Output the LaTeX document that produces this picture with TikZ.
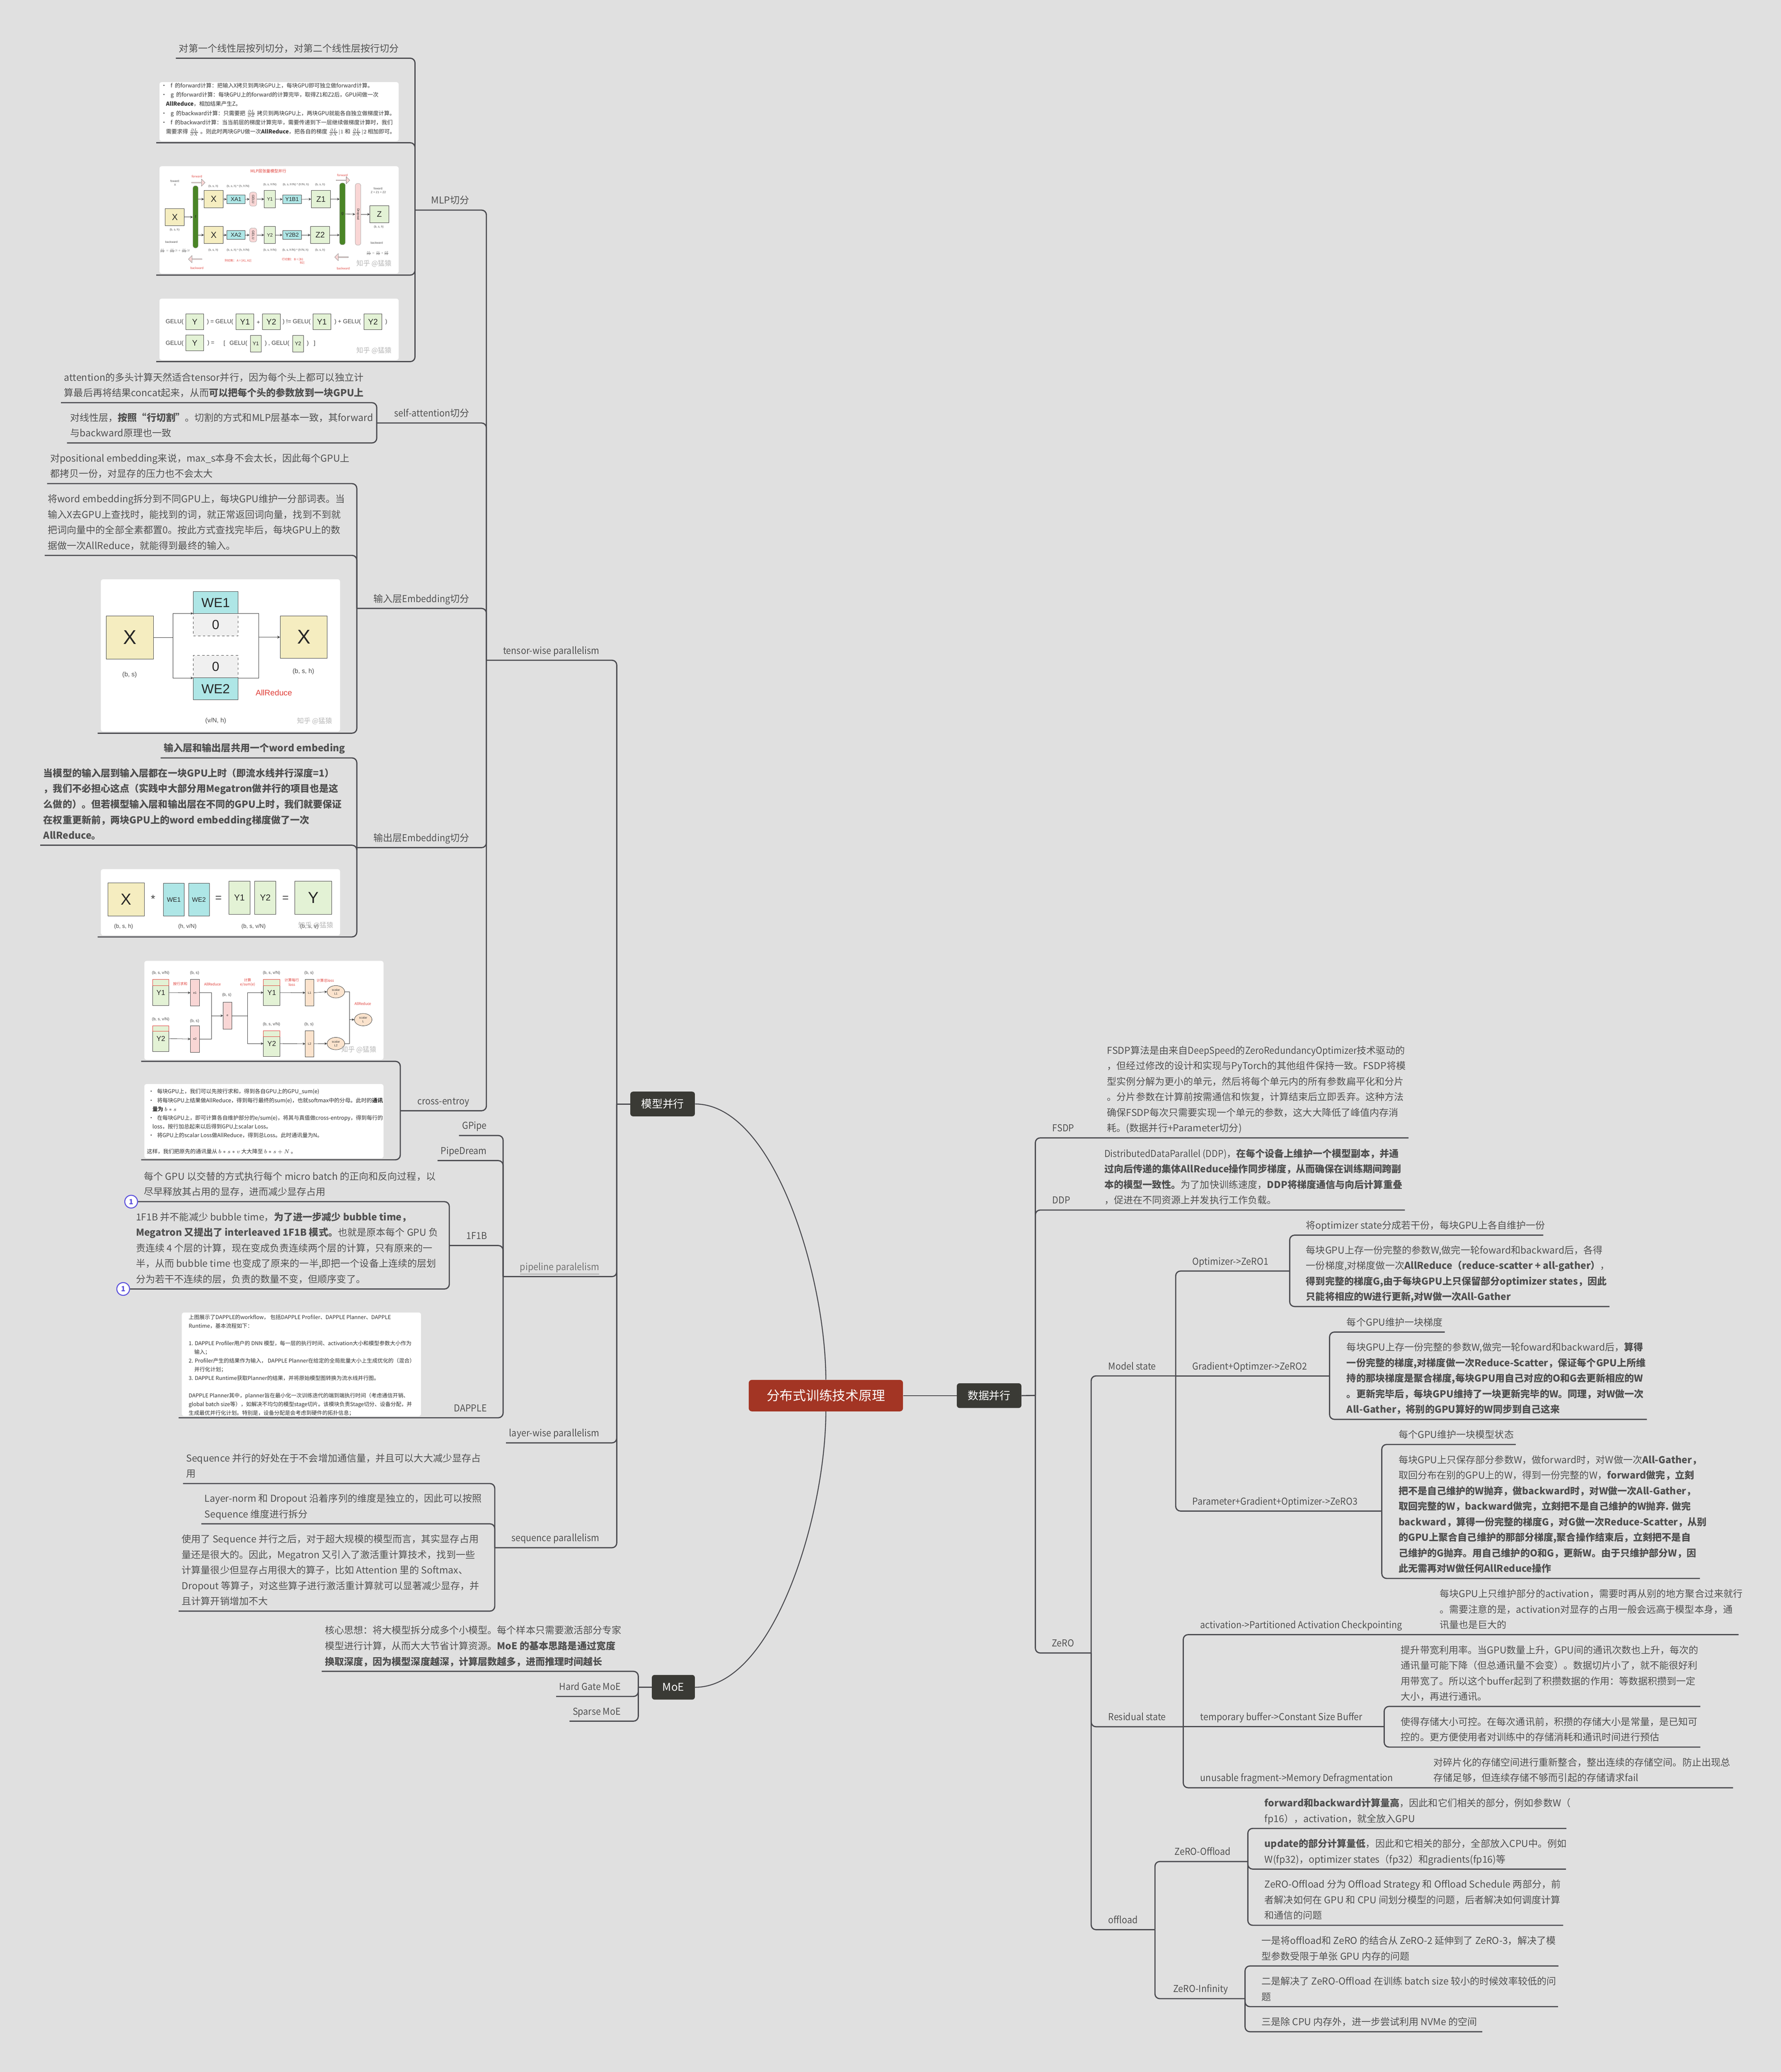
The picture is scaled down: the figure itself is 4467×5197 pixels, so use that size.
\documentclass[tikz,border=0pt]{standalone}
\usepackage{amsmath}
\usepackage{fontspec}
\setmainfont{Noto Sans CJK SC}
\newfontfamily\arialf{Liberation Sans}
\usetikzlibrary{shapes.arrows,shapes.geometric}
\definecolor{bgcol}{HTML}{E0E0E0}
\definecolor{inkcol}{HTML}{505050}
\definecolor{linecol}{HTML}{4B4B50}
\definecolor{rootcol}{HTML}{A33524}
\definecolor{darkcol}{HTML}{3A3A35}
\definecolor{yellowcol}{HTML}{F5EDC0}
\definecolor{cyancol}{HTML}{AEE6E6}
\definecolor{greencol}{HTML}{E3F2D5}
\definecolor{pinkcol}{HTML}{F9D6D5}
\definecolor{peachcol}{HTML}{FBE3CD}
\definecolor{barcol}{HTML}{4A8526}
\definecolor{redcol}{HTML}{E0403A}
\definecolor{badgecol}{HTML}{5B50DC}
\newcommand{\fs}[1]{\fontsize{#1}{#1}\selectfont}
\newcommand{\nar}[1]{{\addfontfeature{FakeStretch=0.93}#1}}
\newcommand{\wmname}{知乎 @猛猿}
\tikzstyle{txt} = [anchor=south west, inner xsep=4pt, inner ysep=2pt, outer sep=0pt, align=left, text=inkcol,
font=\fontsize{12}{19.5}\selectfont, execute at end node=\strut]
\tikzstyle{lab} = [txt, anchor=south east]
\tikzstyle{branch} = [line width=1.5pt, draw=linecol, rounded corners=6pt]
\tikzstyle{shot} = [rectangle, anchor=south west, fill=white, rounded corners=3pt, outer xsep=4pt, outer ysep=2pt,
minimum width=300pt]
\tikzstyle{topicbox} = [rectangle, rounded corners=3.5pt, fill=darkcol, text=white, minimum width=81pt,
minimum height=31pt, font=\fs{13.5}]
\tikzstyle{badge} = [circle, draw=badgecol, line width=1.2pt, fill=white, text=badgecol, minimum size=16pt,
inner sep=0pt, font=\bfseries\fs{9}]
\tikzstyle{note} = [anchor=north west, align=left, inner sep=0pt, text=black!80]
\tikzstyle{dim} = [inner sep=0pt, text=black!70, align=center, font=\arialf\fs{3.6}]
\tikzstyle{redtag} = [inner sep=0pt, text=redcol, align=center, font=\fs{3.6}]
\tikzstyle{wmark} = [inner sep=0pt, text=black!28, font=\fs{8.5}]
\tikzstyle{cell} = [rectangle, draw=black!75, line width=0.5pt, inner sep=0pt, text=black!85, font=\arialf\fs{8}]
\tikzstyle{bar} = [rectangle, rounded corners=3pt, draw=black!40, line width=0.3pt, inner sep=0pt, text=black!85,
font=\arialf\fs{5}]
\tikzstyle{link} = [->,>=stealth, line width=0.4pt, draw=black!80]
\tikzstyle{plain} = [line width=0.4pt, draw=black!80]
\tikzstyle{blockarrow} = [single arrow, draw=black!55, fill=pinkcol, line width=0.3pt, minimum height=17pt,
minimum width=9pt, single arrow head extend=1.5pt, inner sep=0pt]
\tikzstyle{oval} = [ellipse, draw=black!80, fill=peachcol, line width=0.4pt, minimum width=22pt, minimum height=15.5pt,
inner sep=0pt, align=center, text=black!75, font=\arialf\fs{3.8}]
\tikzstyle{geluword} = [inner sep=0pt, text=black!75, font=\arialf\fs{7.3}]
\begin{document}
\begin{tikzpicture}[x=0.5pt, y=-0.5pt]
    \useasboundingbox (0,0) rectangle (4467,5197);
    \fill [bgcol] (0,0) rectangle (4467,5197);
    % centre
    \node (root) [rectangle, rounded corners=4pt, fill=rootcol, text=white, minimum width=193.5pt, minimum height=39.5pt,
    font=\fs{16.5}] at (2071.5,3500.5) {分布式训练技术原理};
    \node (dp) [topicbox, right of= root, node distance = 204.75pt] {数据并行};
    \node (mx) [topicbox] at (1662,2769) {模型并行};
    \node (moe) [topicbox, minimum width=54pt] at (1689,4232) {MoE};
    \draw [branch, line width=1.2pt] (mx.east) .. controls (1940,2769) and (2071,3200) .. (root.north);
    \draw [branch, line width=1.2pt] (moe.east) .. controls (1940,4232) and (2071,3801) .. (root.south);
    \draw [branch, line width=1.2pt] (root.east) -- (dp.west);
    % junctions of the left half
    \coordinate (c0) at (1220,1656);
    \coordinate (c1) at (1041,527);
    \coordinate (c2) at (945,1061);
    \coordinate (c3) at (895,1526);
    \coordinate (c4) at (895,2126);
    \coordinate (c5) at (1004,2786);
    \coordinate (c6) at (1262,3202);
    \coordinate (c7) at (1127,3124);
    \coordinate (c8) at (1547,2769);
    \coordinate (c9) at (1241,3882);
    \coordinate (c10) at (1601,4232);
    % MLP
    \node (a1) [txt] at (441,146) {对第一个线性层按列切分，对第二个线性层按行切分};
    \node (a2) [shot, minimum height=74pt] at (392,358) {};
    \node (a3) [shot, minimum height=134.5pt] at (392,690) {};
    \node (a4) [shot, minimum height=77pt] at (392,907) {};
    \node (l1) [lab] at (1185,527) {MLP切分};
    \node (a2t) [note, font=\fontsize{6.9}{11.5}\selectfont] at (404,208) {•\hspace{5pt}f\hspace{3pt}的forward计算：把输入X拷贝到两块GPU上，每块GPU即可独立做forward计算。\\
    •\hspace{5pt}g\hspace{3pt}的forward计算：每块GPU上的forward的计算完毕，取得Z1和Z2后，GPU间做一次\\
    \hspace*{6pt}\textbf{AllReduce}，相加结果产生Z。\\
    •\hspace{5pt}g\hspace{3pt}的backward计算：只需要把 $\frac{\partial L}{\partial Z}$ 拷贝到两块GPU上，两块GPU就能各自独立做梯度计算。\\
    •\hspace{5pt}f\hspace{3pt}的backward计算：当当前层的梯度计算完毕，需要传递到下一层继续做梯度计算时，我们\\
    \hspace*{6pt}需要求得 $\frac{\partial L}{\partial X}$ 。则此时两块GPU做一次\textbf{AllReduce}，把各自的梯度 $\frac{\partial L}{\partial X}|1$ 和 $\frac{\partial L}{\partial X}|2$ 相加即可。};
    % MLP tensor diagram
    \node (m0) [redtag, font=\fs{5}] at (673,429) {MLP层张量模型并行};
    \node (m1) [cell, fill=yellowcol, minimum width=24pt, minimum height=21.5pt, font=\arialf\fs{11}] at (438.5,544.5) {X};
    \node (m2) [bar, fill=barcol, minimum width=6.5pt, minimum height=78pt] at (490.5,544) {f};
    \node (m3) [cell, fill=yellowcol, minimum width=24pt, minimum height=21.5pt, font=\arialf\fs{11}] at (536,499.5) {X};
    \node (m4) [cell, fill=cyancol, minimum width=23pt, minimum height=11pt, font=\arialf\fs{7}] at (592,500) {XA1};
    \node (m5) [bar, fill=pinkcol, rotate=-90, minimum width=17.5pt, minimum height=9pt, font=\arialf\fs{4}] at (635,499.5) {GELU};
    \node (m6) [cell, fill=greencol, minimum width=14pt, minimum height=21.5pt, font=\arialf\fs{6}] at (677,499.5) {Y1};
    \node (m7) [cell, fill=cyancol, minimum width=23.5pt, minimum height=11pt, font=\arialf\fs{7}] at (732.5,500) {Y1B1};
    \node (m8) [cell, fill=greencol, minimum width=24pt, minimum height=21.5pt, font=\arialf\fs{10}] at (805,499.5) {Z1};
    \node (m9) [bar, fill=barcol, minimum width=7pt, minimum height=77.5pt] at (859,536.5) {g};
    \node (m10) [bar, fill=pinkcol, rotate=-90, minimum width=77.5pt, minimum height=7pt, font=\arialf\fs{4}] at (898,537.5) {Dropout};
    \node (m11) [cell, fill=greencol, minimum width=23.5pt, minimum height=21.5pt, font=\arialf\fs{10}] at (951.5,537.5) {Z};
    \node (m13) [cell, fill=yellowcol, minimum width=24pt, minimum height=21.5pt, font=\arialf\fs{11}] at (536,589.5) {X};
    \node (m14) [cell, fill=cyancol, minimum width=23pt, minimum height=11pt, font=\arialf\fs{7}] at (592,589.5) {XA2};
    \node (m15) [bar, fill=pinkcol, rotate=-90, minimum width=17.5pt, minimum height=9pt, font=\arialf\fs{4}] at (635,589.5) {GELU};
    \node (m16) [cell, fill=greencol, minimum width=14pt, minimum height=21.5pt, font=\arialf\fs{6}] at (677,589.5) {Y2};
    \node (m17) [cell, fill=cyancol, minimum width=23.5pt, minimum height=11pt, font=\arialf\fs{7}] at (732.5,589.5) {Y2B2};
    \node (m18) [cell, fill=greencol, minimum width=24pt, minimum height=21.5pt, font=\arialf\fs{10}] at (803,589.5) {Z2};
    \draw [link] (m1.east) -- (m1.east -| m2.west);
    \draw [link] (m3.west -| m2.east) -- (m3.west);
    \draw [link] (m13.west -| m2.east) -- (m13.west);
    \draw [link] (m3.east) -- (m4.west);
    \draw [link] (m4.east) -- (m5.south);
    \draw [link] (m5.north) -- (m6.west);
    \draw [link] (m6.east) -- (m7.west);
    \draw [link] (m7.east) -- (m8.west);
    \draw [link] (m8.east) -- (m8.east -| m9.west);
    \draw [link] (m13.east) -- (m14.west);
    \draw [link] (m14.east) -- (m15.south);
    \draw [link] (m15.north) -- (m16.west);
    \draw [link] (m16.east) -- (m17.west);
    \draw [link] (m17.east) -- (m18.west);
    \draw [link] (m18.east) -- (m18.east -| m9.west);
    \draw [link] (m9.east) -- (m10.south);
    \draw [link] (m10.north) -- (m11.west);
    \node (m20) [blockarrow] at (497,458) {};
    \node (m21) [blockarrow] at (860,452) {};
    \node (m22) [blockarrow, shape border rotate=180] at (490,650) {};
    \node (m23) [blockarrow, shape border rotate=180] at (857,645) {};
    \node (m24) [redtag] at (494,442) {forward};
    \node (m25) [redtag] at (859,439) {forward};
    \node (m26) [redtag] at (494,672) {backward};
    \node (m27) [redtag] at (861,673) {backward};
    \node (m28) [dim] at (439,459) {foward:\\[1pt]X};
    \node (m29) [dim] at (438,577) {(b, s, h)};
    \node (m30) [dim] at (430,607) {backward};
    \node (m31) [dim, font=\fs{6}, scale=0.55] at (438,629) {$\frac{\partial L}{\partial X}=\frac{\partial L}{\partial X}|1+\frac{\partial L}{\partial X}|2$};
    \node (m32) [dim] at (535,467) {(b, s, h)};
    \node (m33) [dim] at (597,467) {(b, s, h) * (h, h'/N)};
    \node (m34) [dim] at (677,463) {(b, s, h'/N)};
    \node (m35) [dim] at (742,463) {(b, s, h'/N) * (h'/N, h)};
    \node (m36) [dim] at (803,463) {(b, s, h)};
    \node (m37) [dim] at (949,478) {foward:\\[1pt]Z = Z1 + Z2};
    \node (m38) [dim] at (950,569) {(b, s, h)};
    \node (m39) [dim] at (945,609) {backward};
    \node (m40) [dim, font=\fs{6}, scale=0.55] at (947,635) {$\frac{\partial L}{\partial Z}=\frac{\partial L}{\partial Z}*\frac{\partial Z}{\partial Z}$};
    \node (m41) [dim] at (535,628) {(b, s, h)};
    \node (m42) [dim] at (597,628) {(b, s, h) * (h, h'/N)};
    \node (m43) [dim] at (677,628) {(b, s, h'/N)};
    \node (m44) [dim] at (741,628) {(b, s, h'/N) * (h'/N, h)};
    \node (m45) [dim] at (803,628) {(b, s, h)};
    \node (m46) [redtag] at (597,654) {列切割： A = [A1, A2]};
    \node (m47) [redtag] at (734,655) {行切割： B = [B1\\[1pt]\hspace*{24pt}B2]};
    \node (m48) [wmark] at (938,661) {\wmname};
    % GELU formula
    \node (g1) [geluword] at (438,807) {GELU(};
    \node (g2) [cell, fill=greencol, minimum width=22.5pt, minimum height=20pt, font=\arialf\fs{10}] at (488.5,807) {Y};
    \node (g3) [geluword] at (552,807) {) = GELU(};
    \node (g4) [cell, fill=greencol, minimum width=22.5pt, minimum height=20pt, font=\arialf\fs{10}] at (614.5,807) {Y1};
    \node (g5) [geluword] at (648,809) {+};
    \node (g6) [cell, fill=greencol, minimum width=22.5pt, minimum height=20pt, font=\arialf\fs{10}] at (680.5,807) {Y2};
    \node (g7) [geluword] at (744,807) {) != GELU(};
    \node (g8) [cell, fill=greencol, minimum width=22.5pt, minimum height=20pt, font=\arialf\fs{10}] at (807.5,807) {Y1};
    \node (g9) [geluword] at (872,807) {) + GELU(};
    \node (g10) [cell, fill=greencol, minimum width=22.5pt, minimum height=20pt, font=\arialf\fs{10}] at (935.5,807) {Y2};
    \node (g11) [geluword] at (969,807) {)};
    \node (g12) [geluword] at (438,861) {GELU(};
    \node (g13) [cell, fill=greencol, minimum width=22.5pt, minimum height=20pt, font=\arialf\fs{10}] at (488.5,860) {Y};
    \node (g14) [geluword] at (529,860) {) =};
    \node (g15) [geluword] at (563,862) {[};
    \node (g16) [geluword] at (598,862) {GELU(};
    \node (g17) [cell, fill=greencol, minimum width=13.5pt, minimum height=21pt, font=\arialf\fs{6.5}] at (641.5,862) {Y1};
    \node (g18) [geluword] at (695,862) {) , GELU(};
    \node (g19) [cell, fill=greencol, minimum width=13.5pt, minimum height=21pt, font=\arialf\fs{6.5}] at (747.5,862) {Y2};
    \node (g20) [geluword] at (772,861) {)};
    \node (g21) [geluword] at (789,862) {]};
    \node (g22) [wmark] at (938,879) {\wmname};
    \foreach \n in {a1,a2,a3,a4} \draw [branch] (\n.south west) -| (c1);
    % self-attention
    \node (b1) [txt] at (153,1010) {attention的多头计算天然适合tensor并行，因为每个头上都可以独立计\\算最后再将结果concat起来，从而\textbf{可以把每个头的参数放到一块GPU上}};
    \node (b2) [txt] at (168,1111) {对线性层，\textbf{按照“行切割”}。切割的方式和MLP层基本一致，其forward\\与backward原理也一致};
    \node (l2) [lab] at (1185,1061) {\nar{self-attention}切分};
    \foreach \n in {b1,b2} \draw [branch] (\n.south west) -| (c2);
    % input embedding
    \node (d1) [txt] at (118,1213) {对positional embedding来说，max\_s本身不会太长，因此每个GPU上\\都拷贝一份，对显存的压力也不会太大};
    \node (d2) [txt] at (112,1393) {将word embedding拆分到不同GPU上，每块GPU维护一分部词表。当\\输入X去GPU上查找时，能找到的词，就正常返回词向量，找到不到就\\把词向量中的全部全素都置0。按此方式查找完毕后，每块GPU上的数\\据做一次AllReduce，就能得到最终的输入。};
    \node (d3) [shot, minimum height=191pt] at (245,1839) {};
    \node (l3) [lab] at (1185,1526) {输入层\nar{Embedding}切分};
    \node (dx1) [cell, fill=yellowcol, minimum width=59pt, minimum height=54pt, font=\arialf\fs{25}] at (326,1599) {X};
    \node (dw1) [cell, fill=cyancol, minimum width=56pt, minimum height=27.5pt, font=\arialf\fs{16.5}] at (541,1511.5) {WE1};
    \node (dz1) [cell, fill=black!6, dashed, minimum width=56pt, minimum height=28pt, font=\arialf\fs{16.5}] at (541,1567) {0};
    \node (dz2) [cell, fill=black!6, dashed, minimum width=56pt, minimum height=28pt, font=\arialf\fs{16.5}] at (541,1672) {0};
    \node (dw2) [cell, fill=cyancol, minimum width=56pt, minimum height=27.5pt, font=\arialf\fs{16.5}] at (541,1727.5) {WE2};
    \node (dx2) [cell, fill=yellowcol, minimum width=59pt, minimum height=53pt, font=\arialf\fs{25}] at (762,1598) {X};
    \node (dt1) [dim, font=\arialf\fs{8}] at (325,1693) {(b, s)};
    \node (dt2) [dim, font=\arialf\fs{8}] at (761,1684) {(b, s, h)};
    \node (dt3) [dim, font=\arialf\fs{8}] at (541,1808) {(v/N, h)};
    \node (dt4) [redtag, font=\arialf\fs{10}] at (687,1737) {AllReduce};
    \node (dt5) [wmark] at (789,1809) {\wmname};
    \coordinate (dj1) at (434,1599);
    \coordinate (dj2) at (649,1598);
    \draw [plain, line width=0.6pt] (dx1.east) -- (dj1);
    \draw [link] (dj1) |- (dz1.north west);
    \draw [link] (dj1) |- (dz2.south west);
    \draw [plain] (dz1.north east) -| (dj2);
    \draw [plain] (dz2.south east) -| (dj2);
    \draw [link, line width=0.6pt] (dj2) -- (dx2.west);
    \foreach \n in {d1,d2,d3} \draw [branch] (\n.south west) -| (c3);
    % output embedding
    \node (e1) [txt] at (403,1901) {\textbf{输入层和输出层共用一个word embeding}};
    \node (e2) [txt] at (101,2120) {\textbf{当模型的输入层到输入层都在一块GPU上时（即流水线并行深度=1）}\\\textbf{，我们不必担心这点（实践中大部分用Megatron做并行的项目也是这}\\\textbf{么做的）。但若模型输入层和输出层在不同的GPU上时，我们就要保证}\\\textbf{在权重更新前，两块GPU上的word embedding梯度做了一次}\\\textbf{AllReduce。}};
    \node (e3) [shot, minimum height=83pt] at (245,2350) {};
    \node (l4) [lab] at (1185,2126) {输出层\nar{Embedding}切分};
    \node (ex) [cell, fill=yellowcol, minimum width=45.5pt, minimum height=42pt, font=\arialf\fs{20}] at (316.5,2256) {X};
    \node (es1) [geluword, font=\arialf\fs{14}] at (384,2255) {*};
    \node (ew1) [cell, fill=cyancol, minimum width=26pt, minimum height=41.5pt, font=\arialf\fs{8}] at (436,2256.5) {WE1};
    \node (ew2) [cell, fill=cyancol, minimum width=26pt, minimum height=41.5pt, font=\arialf\fs{8}] at (499,2256.5) {WE2};
    \node (es2) [geluword, font=\arialf\fs{14}] at (548,2254) {=};
    \node (ey1) [cell, fill=greencol, minimum width=26.5pt, minimum height=41.5pt, font=\arialf\fs{11}] at (600.5,2251.5) {Y1};
    \node (ey2) [cell, fill=greencol, minimum width=26.5pt, minimum height=41.5pt, font=\arialf\fs{11}] at (665.5,2251.5) {Y2};
    \node (es3) [geluword, font=\arialf\fs{14}] at (716,2254) {=};
    \node (ey) [cell, fill=greencol, minimum width=46pt, minimum height=41.5pt, font=\arialf\fs{20}] at (786,2251.5) {Y};
    \node (et1) [dim, font=\arialf\fs{7}] at (310,2324) {(b, s, h)};
    \node (et2) [dim, font=\arialf\fs{7}] at (470,2324) {(h, v/N)};
    \node (et3) [dim, font=\arialf\fs{7}] at (636,2324) {(b, s, v/N)};
    \node (et4) [dim, font=\arialf\fs{7}] at (776,2324) {(b, s, v)};
    \node (et5) [wmark] at (792,2321) {\wmname};
    \foreach \n in {e1,e2,e3} \draw [branch] (\n.south west) -| (c4);
    % cross entropy
    \node (f1) [shot, minimum height=124pt] at (354,2662) {};
    \node (f2) [shot, minimum height=93pt] at (354,2909) {};
    \node (l5) [lab] at (1185,2786) {\nar{cross-entroy}};
    \node (fa1) [cell, fill=greencol, minimum width=20.5pt, minimum height=32.5pt, font=\arialf\fs{9}] at (403.5,2489.5) {Y1};
    \node (fb1) [cell, fill=greencol, draw=redcol, minimum width=20.5pt, minimum height=7.5pt] at (403.5,2464.5) {};
    \node (fa2) [cell, fill=greencol, minimum width=20.5pt, minimum height=32pt, font=\arialf\fs{9}] at (403.5,2605) {Y2};
    \node (fb2) [cell, fill=greencol, draw=redcol, minimum width=20.5pt, minimum height=7pt] at (403.5,2580) {};
    \node (fe1) [cell, fill=pinkcol, minimum width=11pt, minimum height=33pt, font=\arialf\fs{3.8}] at (489,2490) {e1};
    \node (fe2) [cell, fill=pinkcol, minimum width=11pt, minimum height=33pt, font=\arialf\fs{3.8}] at (489,2606) {e2};
    \node (fe) [cell, fill=pinkcol, minimum width=10.5pt, minimum height=33.5pt, font=\arialf\fs{3.8}] at (570.5,2547.5) {e};
    \node (fc1) [cell, fill=greencol, minimum width=20.5pt, minimum height=32.5pt, font=\arialf\fs{9}] at (681.5,2489.5) {Y1};
    \node (fd1) [cell, fill=greencol, draw=redcol, minimum width=20.5pt, minimum height=7.5pt] at (681.5,2464.5) {};
    \node (fc2) [cell, fill=greencol, minimum width=20.5pt, minimum height=32.5pt, font=\arialf\fs{9}] at (681.5,2617.5) {Y2};
    \node (fd2) [cell, fill=greencol, draw=redcol, minimum width=20.5pt, minimum height=7.5pt] at (681.5,2592.5) {};
    \node (fl1) [cell, fill=peachcol, minimum width=10.5pt, minimum height=33pt, font=\arialf\fs{3.8}] at (776.5,2490) {L1};
    \node (fl2) [cell, fill=peachcol, minimum width=10.5pt, minimum height=33pt, font=\arialf\fs{3.8}] at (776.5,2618) {L2};
    \node (fo1) [oval] at (842.5,2487.5) {scalar\\[1pt]L1};
    \node (fo2) [oval] at (842.5,2617.5) {scalar\\[1pt]L2};
    \node (fo3) [oval] at (911,2557.5) {scalar\\[1pt]L};
    \coordinate (fj1) at (530,2547.5);
    \coordinate (fj2) at (621,2547.5);
    \coordinate (fj3) at (877,2557.5);
    \draw [link] (fa1.east) -- (fe1.west);
    \draw [link] (fa2.east) -- (fe2.west);
    \draw [plain] (fe1.east) -| (fj1);
    \draw [plain] (fe2.east) -| (fj1);
    \draw [link] (fj1) -- (fe.west);
    \draw [plain] (fe.east) -- (fj2);
    \draw [link] (fj2) |- (fc1.west);
    \draw [link] (fj2) |- (fc2.west);
    \draw [link] (fc1.east) -- (fl1.west);
    \draw [link] (fc2.east) -- (fl2.west);
    \draw [link] (fl1.east) -- (fo1.west);
    \draw [link] (fl2.east) -- (fo2.west);
    \draw [plain] (fo1.east) -| (fj3);
    \draw [plain] (fo2.east) -| (fj3);
    \draw [link] (fj3) -- (fo3.west);
    \node (ft1) [dim, font=\arialf\fs{5}] at (403,2441) {(b, s, v/N)};
    \node (ft2) [dim, font=\arialf\fs{5}] at (488,2441) {(b, s)};
    \node (ft3) [dim, font=\arialf\fs{5}] at (569,2496) {(b, s)};
    \node (ft4) [dim, font=\arialf\fs{5}] at (681,2441) {(b, s, v/N)};
    \node (ft5) [dim, font=\arialf\fs{5}] at (775,2441) {(b, s)};
    \node (ft6) [dim, font=\arialf\fs{5}] at (403,2557) {(b, s, v/N)};
    \node (ft7) [dim, font=\arialf\fs{5}] at (488,2561) {(b, s)};
    \node (ft8) [dim, font=\arialf\fs{5}] at (681,2569) {(b, s, v/N)};
    \node (ft9) [dim, font=\arialf\fs{5}] at (775,2569) {(b, s)};
    \node (fr1) [redtag, font=\fs{4.5}] at (452,2468) {按行求和};
    \node (fr2) [redtag, font=\fs{4.5}] at (533,2469) {AllReduce};
    \node (fr3) [redtag, font=\fs{4.5}] at (621,2464) {计算\\[1pt]e/sum(e)};
    \node (fr4) [redtag, font=\fs{4.5}] at (732,2464) {计算每行\\[1pt]loss};
    \node (fr5) [redtag, font=\fs{4.5}] at (816,2459) {计算总loss};
    \node (fr6) [redtag, font=\fs{4.5}] at (910,2518) {AllReduce};
    \node (fw) [wmark] at (900,2633) {\wmname};
    \node (f2t) [note, font=\fontsize{6.8}{11}\selectfont] at (368,2731) {\hspace*{2pt}•\hspace{4pt}每块GPU上，我们可以先按行求和，得到各自GPU上的GPU\_sum(e)\\
    \hspace*{2pt}•\hspace{4pt}将每块GPU上结果做AllReduce，得到每行最终的sum(e)，也就softmax中的分母。此时的\textbf{通讯}\\
    \hspace*{7pt}\textbf{量为} $b*s$\\
    \hspace*{2pt}•\hspace{4pt}在每块GPU上，即可计算各自维护部分的e/sum(e)，将其与真值做cross-entropy，得到每行的\\
    \hspace*{7pt}loss，按行加总起来以后得到GPU上scalar Loss。\\
    \hspace*{2pt}•\hspace{4pt}将GPU上的scalar Loss做AllReduce，得到总Loss。此时通讯量为N。\\[9pt]
    这样，我们把原先的通讯量从 $b*s*v$ 大大降至 $b*s+N$ 。};
    \foreach \n in {f1,f2} \draw [branch] (\n.south west) -| (c5);
    \foreach \n in {c1,c2,c3,c4,c5} \draw [branch] (\n) -| (c0);
    % pipeline
    \node (h1) [lab] at (1229,2848) {\nar{GPipe}};
    \node (h2) [lab] at (1229,2911) {\nar{PipeDream}};
    \node (i1) [txt] at (353,3014) {每个 GPU 以交替的方式执行每个 micro batch 的正向和反向过程，以\\尽早释放其占用的显存，进而减少显存占用};
    \node (i2) [txt] at (333,3233) {1F1B 并不能减少 bubble time，\textbf{为了进一步减少 bubble time，}\\\textbf{Megatron 又提出了 interleaved 1F1B 模式。}也就是原本每个 GPU 负\\责连续 4 个层的计算，现在变成负责连续两个层的计算，只有原来的一\\半，从而 bubble time 也变成了原来的一半,即把一个设备上连续的层划\\分为若干不连续的层，负责的数量不变，但顺序变了。};
    \node (bd1) [badge] at (329,3014) {1};
    \node (bd2) [badge] at (309,3233) {1};
    \node (l7) [lab] at (1230,3124) {\nar{1F1B}};
    \draw [branch] (bd1.east) -| (c7);
    \draw [branch] (bd2.east) -| (c7);
    \node (h4) [shot, minimum height=130pt] at (448,3556) {};
    \node (h4t) [note, font=\fontsize{6.7}{10.9}\selectfont] at (473,3297) {上图展示了DAPPLE的workflow， 包括DAPPLE Profiler、DAPPLE Planner、DAPPLE\\
    Runtime，基本流程如下：\\[10.9pt]
    1. DAPPLE Profiler用户的 DNN 模型，每一层的执行时间、activation大小和模型参数大小作为\\
    \hspace*{7pt}输入；\\
    2. Profiler产生的结果作为输入， DAPPLE Planner在给定的全局批量大小上生成优化的（混合）\\
    \hspace*{7pt}并行化计划；\\
    3. DAPPLE Runtime获取Planner的结果，并将原始模型图转换为流水线并行图。\\[10.9pt]
    DAPPLE Planner其中，planner旨在最小化一次训练迭代的端到端执行时间（考虑通信开销、\\
    global batch size等），如解决不均匀的模型stage切片。该模块负责Stage切分、设备分配，并\\
    生成最优并行化计划。特别是，设备分配是会考虑到硬件的拓扑信息；};
    \node (l8) [lab] at (1229,3556) {\nar{DAPPLE}};
    \node (l6) [lab, text=black!55] at (1511,3202) {\underline{\nar{pipeline paralelism}}};
    \foreach \n in {h1,h2,h4} \draw [branch] (\n.south west) -| (c6);
    \draw [branch] (c7) -| (c6);
    % layer and sequence
    \node (l9) [lab] at (1511,3619) {\nar{layer-wise parallelism}};
    \node (k1) [txt] at (459,3721) {Sequence 并行的好处在于不会增加通信量，并且可以大大减少显存占\\用};
    \node (k2) [txt] at (505,3822) {Layer-norm 和 Dropout 沿着序列的维度是独立的，因此可以按照\\Sequence 维度进行拆分};
    \node (k3) [txt] at (448,4041) {使用了 Sequence 并行之后，对于超大规模的模型而言，其实显存占用\\量还是很大的。因此，Megatron 又引入了激活重计算技术，找到一些\\计算量很少但显存占用很大的算子，比如 Attention 里的 Softmax、\\Dropout 等算子，对这些算子进行激活重计算就可以显著减少显存，并\\且计算开销增加不大};
    \node (l10) [lab] at (1511,3882) {\nar{sequence parallelism}};
    \node (l0) [lab] at (1511,1656) {\nar{tensor-wise parallelism}};
    \foreach \n in {k1,k2,k3} \draw [branch] (\n.south west) -| (c9);
    \foreach \n in {c0,c6,c9} \draw [branch] (\n) -| (c8);
    \draw [branch] (l9.south west) -| (c8);
    \draw [branch] (c8) -- (mx.west);
    % MoE
    \node (n1) [txt] at (807,4192) {核心思想：将大模型拆分成多个小模型。每个样本只需要激活部分专家\\模型进行计算，从而大大节省计算资源。\textbf{MoE 的基本思路是通过宽度}\\\textbf{换取深度，因为模型深度越深，计算层数越多，进而推理时间越长}};
    \node (n2) [lab] at (1565,4255) {\nar{Hard Gate MoE}};
    \node (n3) [lab] at (1565,4317) {\nar{Sparse MoE}};
    \foreach \n in {n1,n2,n3} \draw [branch] (\n.south west) -| (c10);
    \draw [branch] (c10) -- (moe.west);
    % junctions of the right half
    \coordinate (r0) at (2597,3500);
    \coordinate (r1) at (2737,4146);
    \coordinate (r2) at (2949,3451);
    \coordinate (r3) at (2968,4331);
    \coordinate (r4) at (2897,4840);
    \coordinate (r5) at (3235,3188);
    \coordinate (r6) at (3335,3451);
    \coordinate (r7) at (3466,3790);
    \coordinate (r8) at (3472,4331);
    \coordinate (r9) at (3130,4669);
    \coordinate (r10) at (3123,5013);
    \draw [branch] (dp.east) -- (r0);
    % FSDP, DDP
    \node (p1) [txt] at (2769,2854) {FSDP算法是由来自\nar{DeepSpeed}的\nar{ZeroRedundancyOptimizer}技术驱动的\\，但经过修改的设计和实现与PyTorch的其他组件保持一致。FSDP将模\\型实例分解为更小的单元，然后将每个单元内的所有参数扁平化和分片\\。分片参数在计算前按需通信和恢复，计算结束后立即丢弃。这种方法\\确保FSDP每次只需要实现一个单元的参数，这大大降低了峰值内存消\\耗。(数据并行+Parameter切分)};
    \node (p2) [txt] at (2762,3035) {\nar{DistributedDataParallel (DDP)}，\textbf{在每个设备上维护一个模型副本，并通}\\\textbf{过向后传递的集体AllReduce操作同步梯度，从而确保在训练期间跨副}\\\textbf{本的模型一致性。}为了加快训练速度，\textbf{DDP将梯度通信与向后计算重叠}\\，促进在不同资源上并发执行工作负载。};
    \node (pl1) [txt] at (2632,2854) {\nar{FSDP}};
    \node (pl2) [txt] at (2632,3035) {\nar{DDP}};
    \node (pl3) [txt] at (2630,4146) {\nar{ZeRO}};
    \foreach \n/\e in {p1/3533,p2/3524} \draw [branch] (r0) |- (\n.south west) -- (\e,0 |- \n.south);
    \draw [branch] (r0) |- (r1);
    \node (ql1) [txt] at (2772,3451) {\nar{Model state}};
    \node (ql2) [txt] at (2772,4331) {\nar{Residual state}};
    \node (ql3) [txt] at (2772,4840) {\nar{offload}};
    \draw [branch] (r1) |- (r2);
    \draw [branch] (r1) |- (r3);
    \draw [branch] (r1) |- (r4);
    % model state
    \node (sl1) [txt] at (2983,3188) {\nar{Optimizer->ZeRO1}};
    \node (sl2) [txt] at (2983,3451) {\nar{Gradient+Optimzer->ZeRO2}};
    \node (sl3) [txt] at (2983,3790) {\nar{Parameter+Gradient+Optimizer->ZeRO3}};
    \draw [branch] (r2) |- (r5);
    \draw [branch] (r2) -- (r6);
    \draw [branch] (r2) |- (r7);
    \node (q1) [txt] at (3268,3098) {将optimizer state分成若干份，每块GPU上各自维护一份};
    \node (q2) [txt] at (3268,3277) {每块GPU上存一份完整的参数W,做完一轮foward和backward后，各得\\一份梯度,对梯度做一次\textbf{AllReduce（reduce-scatter + all-gather）}，\\\textbf{得到完整的梯度G,由于每块GPU上只保留部分optimizer states，因此}\\\textbf{只能将相应的W进行更新,对W做一次All-Gather}};
    \node (q3) [txt] at (3370,3341) {每个GPU维护一块梯度};
    \node (q4) [txt] at (3370,3560) {每块GPU上存一份完整的参数W,做完一轮foward和backward后，\textbf{算得}\\\textbf{一份完整的梯度,对梯度做一次Reduce-Scatter，保证每个GPU上所维}\\\textbf{持的那块梯度是聚合梯度,每块GPU用自己对应的O和G去更新相应的W}\\\textbf{。更新完毕后，每块GPU维持了一块更新完毕的W。同理，对W做一次}\\\textbf{All-Gather，将别的GPU算好的W同步到自己这来}};
    \node (q5) [txt] at (3500,3623) {每个GPU维护一块模型状态};
    \node (q6) [txt] at (3500,3959) {每块GPU上只保存部分参数W，做forward时，对W做一次\textbf{All-Gather，}\\取回分布在别的GPU上的W，得到一份完整的W，\textbf{forward做完，立刻}\\\textbf{把不是自己维护的W抛弃，做backward时，对W做一次All-Gather，}\\\textbf{取回完整的W，backward做完，立刻把不是自己维护的W抛弃. 做完}\\\textbf{backward，算得一份完整的梯度G，对G做一次Reduce-Scatter，从别}\\\textbf{的GPU上聚合自己维护的那部分梯度,聚合操作结束后，立刻把不是自}\\\textbf{己维护的G抛弃。用自己维护的O和G，更新W。由于只维护部分W，因}\\\textbf{此无需再对W做任何AllReduce操作}};
    \foreach \n/\e in {q1/3871,q2/4037} \draw [branch] (r5) |- (\n.south west) -- (\e,0 |- \n.south);
    \foreach \n/\e in {q3/3624,q4/4131} \draw [branch] (r6) |- (\n.south west) -- (\e,0 |- \n.south);
    \foreach \n/\e in {q5/3802,q6/4264} \draw [branch] (r7) |- (\n.south west) -- (\e,0 |- \n.south);
    % residual state
    \node (tl1) [txt] at (3003,4100) {\nar{activation->Partitioned Activation Checkpointing}};
    \node (tl2) [txt] at (3003,4331) {\nar{temporary buffer->Constant Size Buffer}};
    \node (tl3) [txt] at (3003,4484) {\nar{unusable fragment->Memory Defragmentation}};
    \node (t1) [txt] at (3603,4100) {每块GPU上只维护部分的activation，需要时再从别的地方聚合过来就行\\。需要注意的是，activation对显存的占用一般会远高于模型本身，通\\讯量也是巨大的};
    \node (t2) [txt] at (3506,4280) {提升带宽利用率。当GPU数量上升，GPU间的通讯次数也上升，每次的\\通讯量可能下降（但总通讯量不会变）。数据切片小了，就不能很好利\\用带宽了。所以这个buffer起到了积攒数据的作用：等数据积攒到一定\\大小，再进行通讯。};
    \node (t3) [txt] at (3506,4382) {使得存储大小可控。在每次通讯前，积攒的存储大小是常量，是已知可\\控的。更方便使用者对训练中的存储消耗和通讯时间进行预估};
    \node (t4) [txt] at (3588,4484) {对碎片化的存储空间进行重新整合，整出连续的存储空间。防止出现总\\存储足够，但连续存储不够而引起的存储请求fail};
    \foreach \n/\e in {t1/4361,t4/4347} \draw [branch] (r3) |- (\n.south west) -- (\e,0 |- \n.south);
    \draw [branch] (r3) -- (r8);
    \foreach \n/\e in {t2/4265,t3/4265} \draw [branch] (r8) |- (\n.south west) -- (\e,0 |- \n.south);
    % offload
    \node (ul1) [lab] at (3095,4669) {\nar{ZeRO-Offload}};
    \node (ul2) [lab] at (3088,5013) {\nar{ZeRO-Infinity}};
    \node (u1) [txt] at (3164,4586) {\textbf{forward和backward计算量高}，因此和它们相关的部分，例如参数W（\\fp16），activation，就全放入GPU};
    \node (u2) [txt] at (3164,4688) {\textbf{update的部分计算量低}，因此和它相关的部分，全部放入CPU中。例如\\W(fp32)，optimizer states（fp32）和gradients(fp16)等};
    \node (u3) [txt] at (3164,4829) {ZeRO-Offload 分为 Offload Strategy 和 Offload Schedule 两部分，前\\者解决如何在 GPU 和 CPU 间划分模型的问题，后者解决如何调度计算\\和通信的问题};
    \node (u4) [txt] at (3156,4931) {一是将offload和 ZeRO 的结合从 ZeRO-2 延伸到了 ZeRO-3，解决了模\\型参数受限于单张 GPU 内存的问题};
    \node (u5) [txt] at (3156,5033) {二是解决了 ZeRO-Offload 在训练 batch size 较小的时候效率较低的问\\题};
    \node (u6) [txt] at (3156,5096) {三是除 CPU 内存外，进一步尝试利用 NVMe 的空间};
    \draw [branch] (r4) |- (r9);
    \draw [branch] (r4) |- (r10);
    \foreach \n/\e in {u1/3929,u2/3928,u3/3921} \draw [branch] (r9) |- (\n.south west) -- (\e,0 |- \n.south);
    \foreach \n/\e in {u4/3909,u5/3908,u6/3718} \draw [branch] (r10) |- (\n.south west) -- (\e,0 |- \n.south);
\end{tikzpicture}
\end{document}
